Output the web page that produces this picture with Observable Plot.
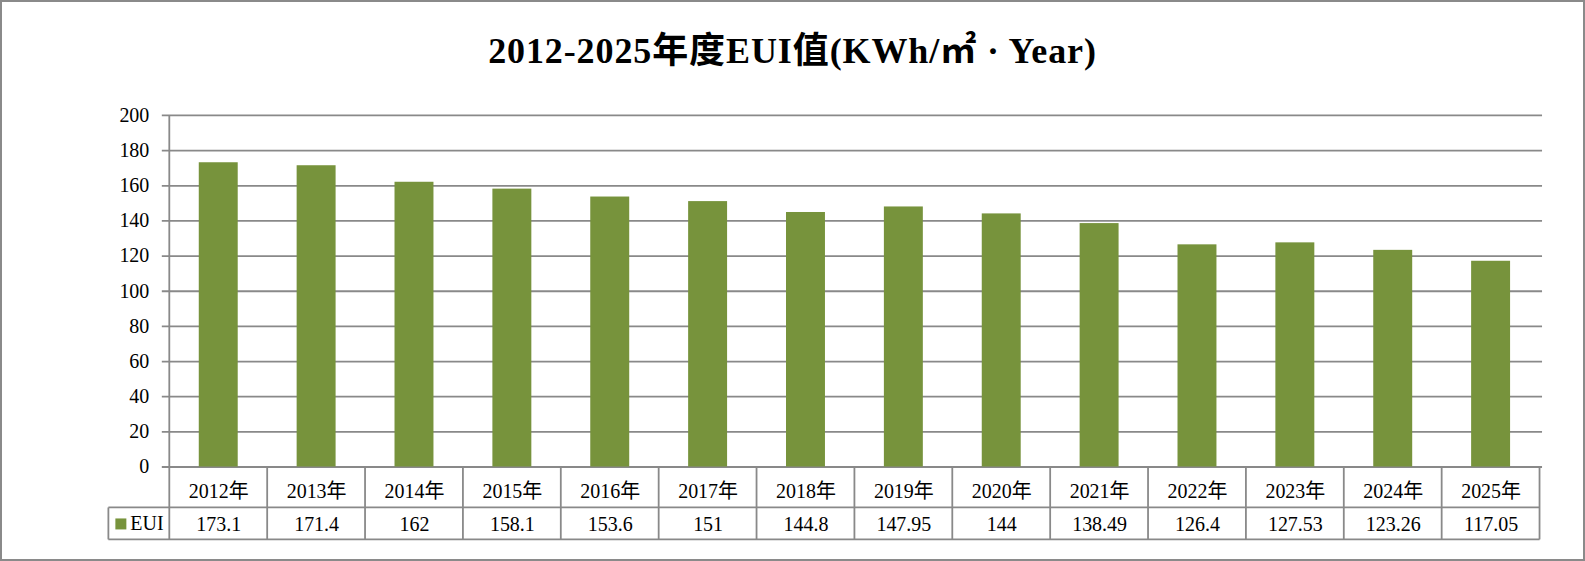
<!DOCTYPE html>
<html>
<head>
<meta charset="utf-8">
<script src="https://cdn.jsdelivr.net/npm/d3@7"></script>
<script src="https://cdn.jsdelivr.net/npm/@observablehq/plot@0.6"></script>
<style>
  html, body { margin: 0; padding: 0; background: #fff; }
  #page { position: relative; width: 1585px; height: 561px; box-sizing: border-box; border: 2px solid #8a8a8a; overflow: hidden; background: #fff; }
  #title { position: absolute; left: 0; top: 0; width: 1581px; height: 90px; box-sizing: border-box; padding-top: 31px;
           text-align: center; font-family: "Liberation Serif", "Noto Sans CJK TC", serif; font-weight: bold; font-size: 36px; line-height: 36px; letter-spacing: 0.9px; color: #000; }
  #chart { position: absolute; left: -2px; top: 88px; }
</style>
</head>
<body>
<div id="page">
  <div id="title">2012-2025年度EUI值(KWh/㎡ · Year)</div>
  <div id="chart"></div>
</div>
<script>
// ---- data ----
const years = ["2012年","2013年","2014年","2015年","2016年","2017年","2018年","2019年","2020年","2021年","2022年","2023年","2024年","2025年"];
const eui = [173.1, 171.4, 162, 158.1, 153.6, 151, 144.8, 147.95, 144, 138.49, 126.4, 127.53, 123.26, 117.05];
const yTicks = [0, 20, 40, 60, 80, 100, 120, 140, 160, 180, 200];
const seriesName = "EUI";

// ---- styles ----
const barColor = "#77933C";
const lineColor = "#898989";
const lineWidth = 1.8;
const font = "'Liberation Serif', 'Noto Sans CJK TC', serif";
const ROW1 = 41, ROW2 = 32, LEGEND_W = 61;

const data = years.map((y, i) => ({year: y, eui: eui[i]}));

function tableMark(index, scales, values, dimensions) {
  const x = scales.x, y = scales.y;
  const step = x.step(), bw = x.bandwidth();
  const off = (step - bw) / 2;
  const edges = years.map(d => x(d) - off);
  edges.push(edges[edges.length - 1] + step);
  const left = edges[0], right = edges[edges.length - 1];
  const y0 = y(0), yTop = y(yTicks[yTicks.length - 1]);
  const rowSplit = y0 + ROW1, rowEnd = y0 + ROW1 + ROW2;
  const legendLeft = left - LEGEND_W;
  const g = d3.create("svg:g");
  const lines = g.append("g").attr("fill", "none").attr("stroke", lineColor).attr("stroke-width", lineWidth);
  const add = (x1, y1, x2, y2) => lines.append("line").attr("x1", x1).attr("y1", y1).attr("x2", x2).attr("y2", y2);
  add(left, yTop, left, rowEnd);
  edges.slice(1).forEach(e => add(e, y0, e, rowEnd));
  add(legendLeft, rowSplit, right, rowSplit);
  add(legendLeft, rowEnd, right, rowEnd);
  add(legendLeft, rowSplit, legendLeft, rowEnd);
  g.append("rect").attr("x", legendLeft + 7).attr("y", rowSplit + 11).attr("width", 11).attr("height", 11).attr("fill", barColor);
  g.append("text").attr("x", legendLeft + 22).attr("y", rowSplit + ROW2 / 2).attr("dy", "0.32em")
    .attr("text-anchor", "start").attr("font-size", 20).attr("font-family", font).attr("fill", "#000").text(seriesName);
  return g.node();
}

const chart = Plot.plot({
  width: 1585,
  height: 473,
  marginLeft: 168,
  marginRight: 41,
  marginTop: 25,
  marginBottom: 96,
  style: {fontFamily: font, fontSize: "20px", color: "#000", background: "transparent", overflow: "visible"},
  x: {domain: years, paddingInner: 0.6, paddingOuter: 0.3, axis: null},
  y: {domain: [0, 200], axis: null},
  marks: [
    Plot.ruleY(yTicks, {stroke: lineColor, strokeWidth: lineWidth, insetLeft: -6}),
    Plot.barY(data, {x: "year", y: "eui", fill: barColor}),
    Plot.axisY({ticks: yTicks, tickSize: 0, tickPadding: 19, fontSize: 20, label: null}),
    Plot.text(data, {x: "year", y: () => 0, dy: 25, text: "year", fontSize: 20}),
    Plot.text(data, {x: "year", y: () => 0, dy: 58, text: d => String(d.eui), fontSize: 20}),
    tableMark
  ]
});
document.getElementById("chart").appendChild(chart);
</script>
</body>
</html>
